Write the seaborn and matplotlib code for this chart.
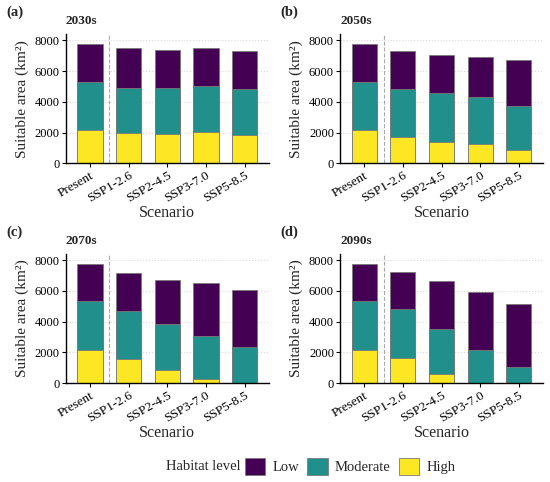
import numpy as np
import pandas as pd
import matplotlib.pyplot as plt
from matplotlib.patches import Patch
import seaborn as sns

scenarios = ["Present", "SSP1-2.6", "SSP2-4.5", "SSP3-7.0", "SSP5-8.5"]
periods = ["2030s", "2050s", "2070s", "2090s"]
panel_tags = ["(a)", "(b)", "(c)", "(d)"]
levels = ["Low", "Moderate", "High"]

# area per habitat level (km2), Present first then the four SSPs
high_2030 = [2150, 1950, 1890, 2020, 1840]
mod_2030 = [3160, 2970, 2990, 3030, 3020]
low_2030 = [2460, 2560, 2520, 2480, 2430]

high_2050 = [2150, 1710, 1410, 1240, 850]
mod_2050 = [3160, 3110, 3190, 3060, 2860]
low_2050 = [2460, 2470, 2430, 2620, 3010]

high_2070 = [2150, 1590, 840, 300, 0]
mod_2070 = [3160, 3070, 3020, 2780, 2330]
low_2070 = [2460, 2520, 2860, 3450, 3730]

high_2090 = [2150, 1660, 580, 0, 0]
mod_2090 = [3160, 3170, 2910, 2160, 1060]
low_2090 = [2460, 2390, 3170, 3770, 4070]

data = {
    "2030s": (low_2030, mod_2030, high_2030),
    "2050s": (low_2050, mod_2050, high_2050),
    "2070s": (low_2070, mod_2070, high_2070),
    "2090s": (low_2090, mod_2090, high_2090),
}

colors = {"Low": "#440154", "Moderate": "#21908C", "High": "#FDE725"}

sns.set_theme(style="ticks")
plt.rcParams["font.family"] = ["Liberation Serif", "DejaVu Serif"]
plt.rcParams["axes.edgecolor"] = "black"
plt.rcParams["xtick.color"] = "black"
plt.rcParams["ytick.color"] = "black"

fig, axes = plt.subplots(2, 2, figsize=(5.5, 4.82), dpi=100)
fig.subplots_adjust(left=0.12, right=0.987, top=0.929, bottom=0.205,
                    wspace=0.353, hspace=0.70)

for ax, per, tag in zip(axes.flat, periods, panel_tags):
    low, mod, high = data[per]
    df = pd.DataFrame({"Scenario": scenarios,
                       "High": high,
                       "Moderate": np.array(mod) + np.array(high),
                       "Low": np.array(low) + np.array(mod) + np.array(high)})
    ax.yaxis.grid(True, ls=":", color="#d9d9d9", lw=0.8)
    ax.set_axisbelow(True)
    for lev in levels:
        sns.barplot(data=df, x="Scenario", y=lev, order=scenarios, ax=ax,
                    color=colors[lev], saturation=1, width=0.65,
                    edgecolor="#7a7a7a", linewidth=0.6, errorbar=None)
    ax.axvline(0.5, color="#aaaaaa", ls="--", lw=0.8)
    ax.set_xlim(-0.62, 4.62)
    ax.set_ylim(0, 8400)
    ax.set_yticks([0, 2000, 4000, 6000, 8000])
    ax.set_xlabel("Scenario", fontsize=11.5, labelpad=0)
    ax.set_ylabel("Suitable area (km²)", fontsize=11)
    ax.tick_params(axis="y", labelsize=9, length=3, width=0.8, pad=1.5)
    ax.tick_params(axis="x", labelsize=9.5, length=3, width=0.8, pad=1.5)
    plt.setp(ax.get_xticklabels(), rotation=30, ha="right", rotation_mode="anchor")
    sns.despine(ax=ax)
    for s in ["left", "bottom"]:
        ax.spines[s].set_linewidth(1.0)
        ax.spines[s].set_color("black")
    ax.set_title(per, loc="left", fontweight="bold", fontsize=9.5, pad=7)

    pos = ax.get_position()
    fig.text(pos.x0 - 0.108, pos.y1 + 0.046, tag, fontweight="bold",
             fontsize=10.5, va="center", ha="left")

handles = [Patch(facecolor=colors[l], edgecolor="#7a7a7a", linewidth=0.6) for l in levels]
fig.text(0.437, 0.033, "Habitat level", ha="right", va="center", fontsize=10.5)
fig.legend(handles, levels, loc="center left", bbox_to_anchor=(0.445, 0.033),
           ncol=3, frameon=False, fontsize=10.5, handlelength=1.4, handleheight=1.4,
           handletextpad=0.5, columnspacing=0.55, borderpad=0, borderaxespad=0)

fig.savefig("out.png", dpi=100)
